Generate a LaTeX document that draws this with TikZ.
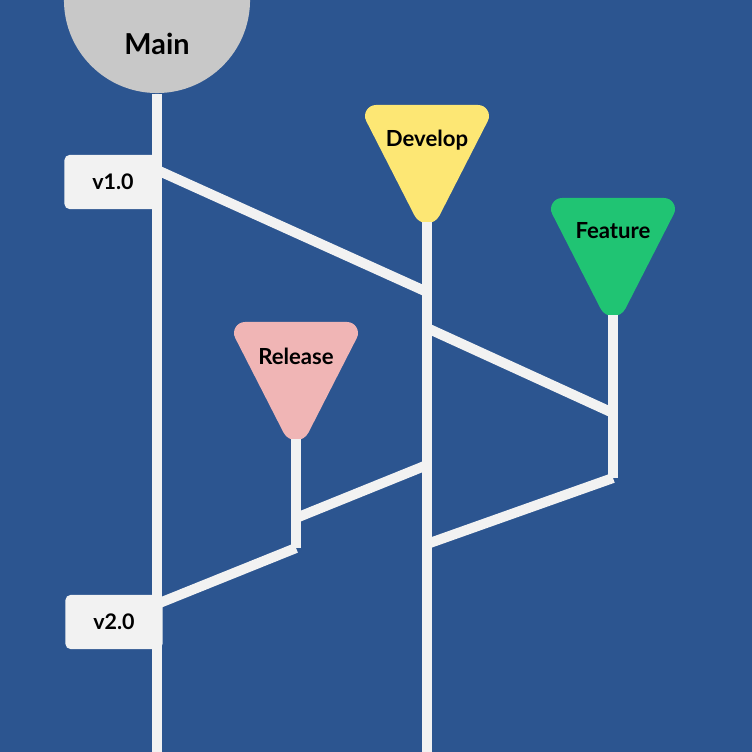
\documentclass[tikz,border=0pt]{standalone}
\usepackage{fontspec}
\setmainfont{Lato}
\definecolor{bgcol}{HTML}{2C5590}
\definecolor{linecol}{HTML}{F2F2F2}
\definecolor{maingray}{HTML}{C8C8C8}
\definecolor{devyellow}{HTML}{FDE774}
\definecolor{featgreen}{HTML}{20C473}
\definecolor{relpink}{HTML}{F0B5B5}
\newcommand\flagtri[4]{% name, center x, top y, colour
  \fill[#4] ({#2-51},#3) -- ({#2+51},#3)
    .. controls ({#2+59.2},#3) and ({#2+64.5},{#3+8.7}) .. ({#2+60.8},{#3+16})
    -- ({#2+12.5},{#3+110.5})
    .. controls ({#2+7.3},{#3+120.7}) and ({#2-7.3},{#3+120.7}) .. ({#2-12.5},{#3+110.5})
    -- ({#2-60.8},{#3+16})
    .. controls ({#2-64.5},{#3+8.7}) and ({#2-59.2},#3) .. ({#2-51},#3) -- cycle;
  \coordinate (#1) at (#2,{#3+117});}
\begin{document}
\begin{tikzpicture}[x=0.01cm,y=-0.01cm,
  branch/.style={draw=linecol, line width=0.1cm},
  tagbox/.style={fill=linecol, rounded corners=0.05cm, minimum width=0.97cm, minimum height=0.54cm, inner sep=0pt, text=black, font=\bfseries\fontsize{6.1pt}{7pt}\selectfont},
  flaglbl/.style={text=black, inner sep=0pt, font=\bfseries\fontsize{6.3pt}{7pt}\selectfont},
  mainlbl/.style={text=black, inner sep=0pt, font=\bfseries\fontsize{8.2pt}{9pt}\selectfont}]
\fill[bgcol] (0,0) rectangle (752,752);
\useasboundingbox (0,0) rectangle (752,752);
% tips and branch points
\coordinate (mainbot) at (157,752);
\coordinate (devbot) at (427,752);
\coordinate (m1) at (157,170);
\coordinate (d1) at (427,292);
\coordinate (d2) at (427,328);
\coordinate (f1) at (613,413);
\coordinate (fend) at (613,478);
\coordinate (d3) at (427,544);
\coordinate (r1) at (296,518);
\coordinate (d4) at (427,465);
\coordinate (rend) at (296,548);
\coordinate (m2) at (157,604);
% flags
\node[circle, fill=maingray, minimum size=1.86cm, inner sep=0pt] (mainc) at (157,0) {};
\flagtri{devtip}{427}{105}{devyellow}
\flagtri{feattip}{613}{198}{featgreen}
\flagtri{reltip}{296}{322}{relpink}
% connectors
\draw[branch] (mainc.south) -- (mainbot);
\draw[branch] (devtip) -- (devbot);
\draw[branch] (feattip) -- (fend);
\draw[branch] (reltip) -- (rend);
\draw[branch] (m1) -- (d1);
\draw[branch] (d2) -- (f1);
\draw[branch] (fend) -- (d3);
\draw[branch] (r1) -- (d4);
\draw[branch] (rend) -- (m2);
% labels
\node[mainlbl] (mainlabel) at (157,44) {Main};
\node[flaglbl] (devlabel) at (427,140) {Develop};
\node[flaglbl] (featlabel) at (613,231) {Feature};
\node[flaglbl] (rellabel) at (296,356) {Release};
\node[tagbox] (v1) at (113,182) {v1.0};
\node[tagbox] (v2) at (114,622) {v2.0};
\end{tikzpicture}
\end{document}
